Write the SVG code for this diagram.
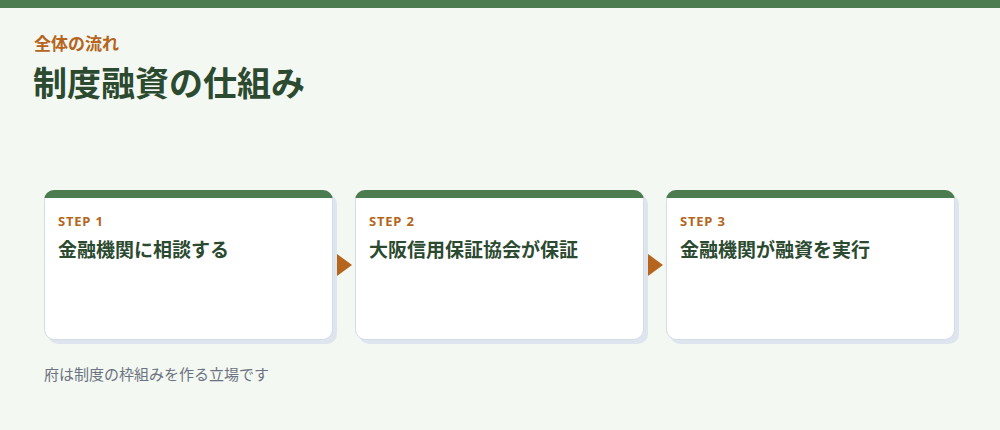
<svg xmlns="http://www.w3.org/2000/svg" width="1000" height="430" viewBox="0 0 1000 430">
<defs>
<style>
text{font-family:"Noto Sans CJK JP","Noto Sans",sans-serif}
.shadow{fill:#dfe5ee}
.card{fill:#ffffff;stroke:#d3dbe5;stroke-width:1}
.bar{fill:#4a7c50}
.step{font-family:"Noto Sans","Noto Sans CJK JP",sans-serif;font-size:13px;font-weight:700;fill:#b5651d;letter-spacing:0.8px}
.head{font-size:19px;font-weight:700;fill:#2b4a30}
.arrow{fill:#b5651d}
</style>
<clipPath id="c1"><rect x="44" y="190" width="289" height="150" rx="10"/></clipPath>
<clipPath id="c2"><rect x="355" y="190" width="289" height="150" rx="10"/></clipPath>
<clipPath id="c3"><rect x="666" y="190" width="289" height="150" rx="10"/></clipPath>
</defs>
<rect width="1000" height="430" fill="#f3f8f2"/>
<rect width="1000" height="8" fill="#4a7c50"/>
<text x="34" y="50" font-size="17" font-weight="700" fill="#b5651d">全体の流れ</text>
<text x="33" y="96" font-size="34" font-weight="700" fill="#2b4a30">制度融資の仕組み</text>
<g id="step1">
<rect class="shadow" x="48" y="194" width="289" height="150" rx="10"/>
<rect class="card" x="44.5" y="190.5" width="288" height="149" rx="10"/>
<rect class="bar" x="44" y="190" width="289" height="8" clip-path="url(#c1)"/>
<text class="step" x="58" y="226">STEP 1</text>
<text class="head" x="58" y="257">金融機関に相談する</text>
</g>
<g id="step2">
<rect class="shadow" x="359" y="194" width="289" height="150" rx="10"/>
<rect class="card" x="355.5" y="190.5" width="288" height="149" rx="10"/>
<rect class="bar" x="355" y="190" width="289" height="8" clip-path="url(#c2)"/>
<text class="step" x="369" y="226">STEP 2</text>
<text class="head" x="369" y="257">大阪信用保証協会が保証</text>
</g>
<g id="step3">
<rect class="shadow" x="670" y="194" width="289" height="150" rx="10"/>
<rect class="card" x="666.5" y="190.5" width="288" height="149" rx="10"/>
<rect class="bar" x="666" y="190" width="289" height="8" clip-path="url(#c3)"/>
<text class="step" x="680" y="226">STEP 3</text>
<text class="head" x="680" y="257">金融機関が融資を実行</text>
</g>
<g id="connectors">
<polygon class="arrow" points="337,254 352,265 337,276"/>
<polygon class="arrow" points="648,254 663,265 648,276"/>
</g>
<text x="44" y="380" font-size="15" fill="#6b7280">府は制度の枠組みを作る立場です</text>
</svg>
